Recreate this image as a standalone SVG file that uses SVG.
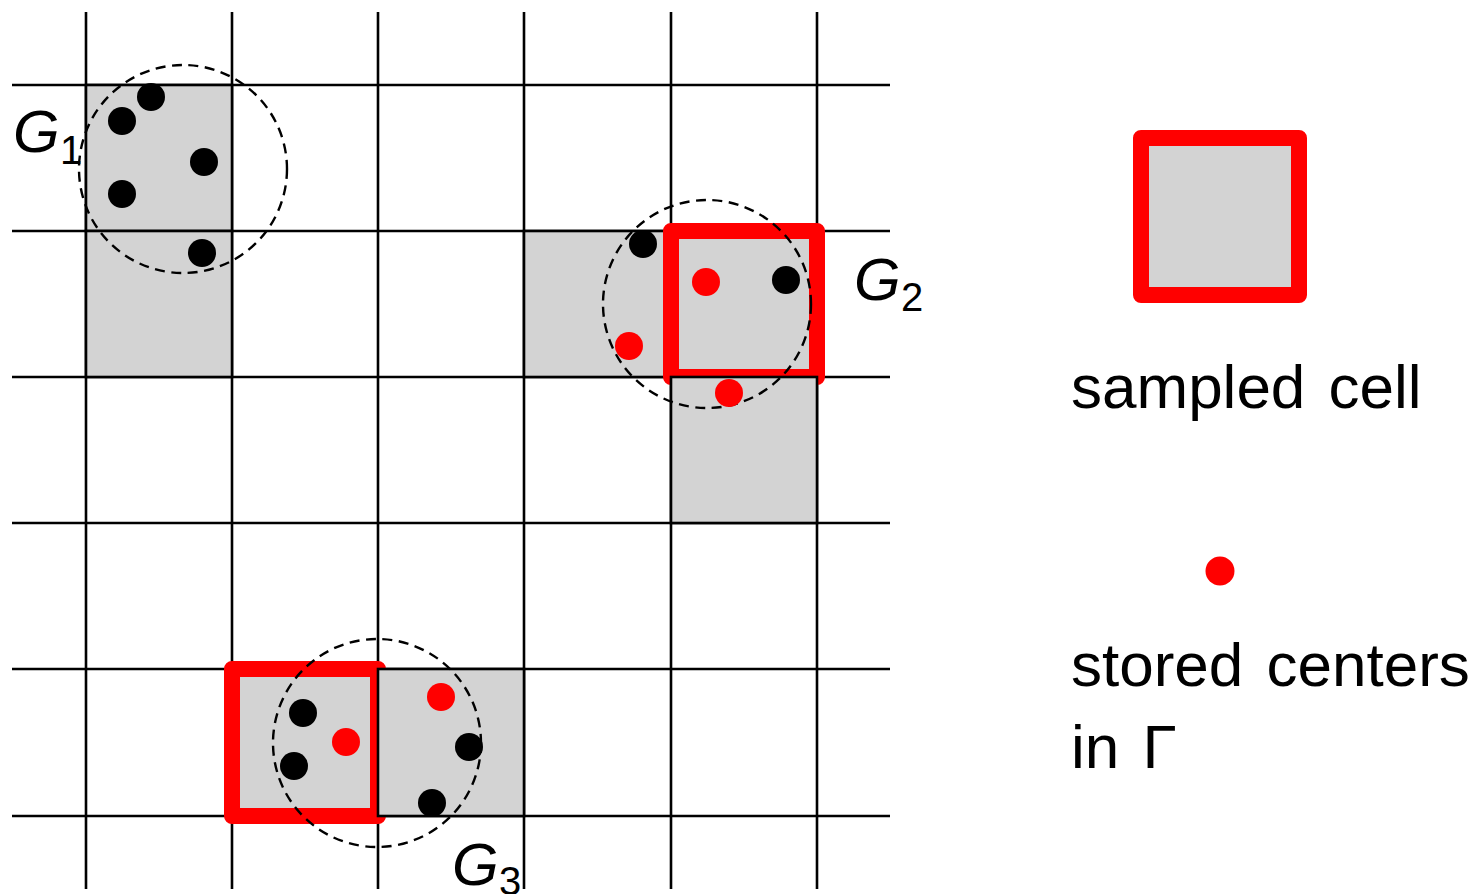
<svg xmlns="http://www.w3.org/2000/svg" width="1476" height="894" viewBox="0 0 1476 894">
<style>
.grid line{stroke:#000;stroke-width:2.6}
.cell{fill:#d3d3d3;stroke:#000;stroke-width:2.6}
.samp{fill:#d3d3d3;stroke:#ff0000;stroke-width:16;stroke-linejoin:round}
.ring{fill:none;stroke:#000;stroke-width:2.4;stroke-dasharray:10 6.5}
.pt{fill:#000}
.ctr{fill:#ff0000}
.lbl{font-family:"Liberation Sans",Arial,sans-serif;font-style:italic;font-size:60px;fill:#000}
.sub{font-family:"Liberation Sans",Arial,sans-serif;font-size:40px;fill:#000}
.txt{font-family:"Liberation Sans",Arial,sans-serif;font-size:62px;word-spacing:6px;fill:#000}
</style>
<rect width="1476" height="894" fill="#fff"/>
<g id="grid" class="grid">
<line x1="86" y1="12" x2="86" y2="889"/>
<line x1="232" y1="12" x2="232" y2="889"/>
<line x1="378" y1="12" x2="378" y2="889"/>
<line x1="524" y1="12" x2="524" y2="889"/>
<line x1="671" y1="12" x2="671" y2="889"/>
<line x1="817" y1="12" x2="817" y2="889"/>
<line x1="12" y1="85" x2="890" y2="85"/>
<line x1="12" y1="231" x2="890" y2="231"/>
<line x1="12" y1="377" x2="890" y2="377"/>
<line x1="12" y1="523" x2="890" y2="523"/>
<line x1="12" y1="669" x2="890" y2="669"/>
<line x1="12" y1="816" x2="890" y2="816"/>
</g>
<g id="G1">
<rect class="cell" x="86" y="85" width="146" height="146"/>
<rect class="cell" x="86" y="231" width="146" height="146"/>
<circle class="ring" cx="183" cy="169" r="104"/>
<circle class="pt" cx="151" cy="97" r="14"/>
<circle class="pt" cx="122" cy="121" r="14"/>
<circle class="pt" cx="204" cy="162" r="14"/>
<circle class="pt" cx="122" cy="194" r="14"/>
<circle class="pt" cx="202" cy="253" r="14"/>
<text class="lbl" x="13" y="152">G</text>
<text class="sub" x="60" y="164">1</text>
</g>
<g id="G2">
<rect class="cell" x="524" y="231" width="147" height="146"/>
<rect class="samp" x="671" y="231" width="146" height="146"/>
<rect class="cell" x="671" y="377" width="146" height="146"/>
<circle class="ring" cx="707" cy="304" r="104"/>
<circle class="pt" cx="643" cy="244" r="14"/>
<circle class="ctr" cx="706" cy="282" r="14"/>
<circle class="pt" cx="786" cy="280" r="14"/>
<circle class="ctr" cx="629" cy="346" r="14"/>
<circle class="ctr" cx="729" cy="393" r="14"/>
<text class="lbl" x="854" y="300">G</text>
<text class="sub" x="901" y="311">2</text>
</g>
<g id="G3">
<rect class="samp" x="232" y="669" width="146" height="147"/>
<rect class="cell" x="378" y="669" width="146" height="147"/>
<circle class="ring" cx="377" cy="743" r="104"/>
<circle class="pt" cx="303" cy="713" r="14"/>
<circle class="ctr" cx="346" cy="742" r="14"/>
<circle class="pt" cx="294" cy="766" r="14"/>
<circle class="ctr" cx="441" cy="697" r="14"/>
<circle class="pt" cx="469" cy="747" r="14"/>
<circle class="pt" cx="432" cy="803" r="14"/>
<text class="lbl" x="452" y="885">G</text>
<text class="sub" x="499" y="895">3</text>
</g>
<g id="legend-cell">
<rect class="samp" x="1141" y="138" width="158" height="157"/>
<text class="txt" x="1071" y="408">sampled cell</text>
</g>
<g id="legend-center">
<circle class="ctr" cx="1220" cy="571" r="14.5"/>
<text class="txt" x="1071" y="686">stored centers</text>
<text class="txt" x="1071" y="768">in Γ</text>
</g>
</svg>
